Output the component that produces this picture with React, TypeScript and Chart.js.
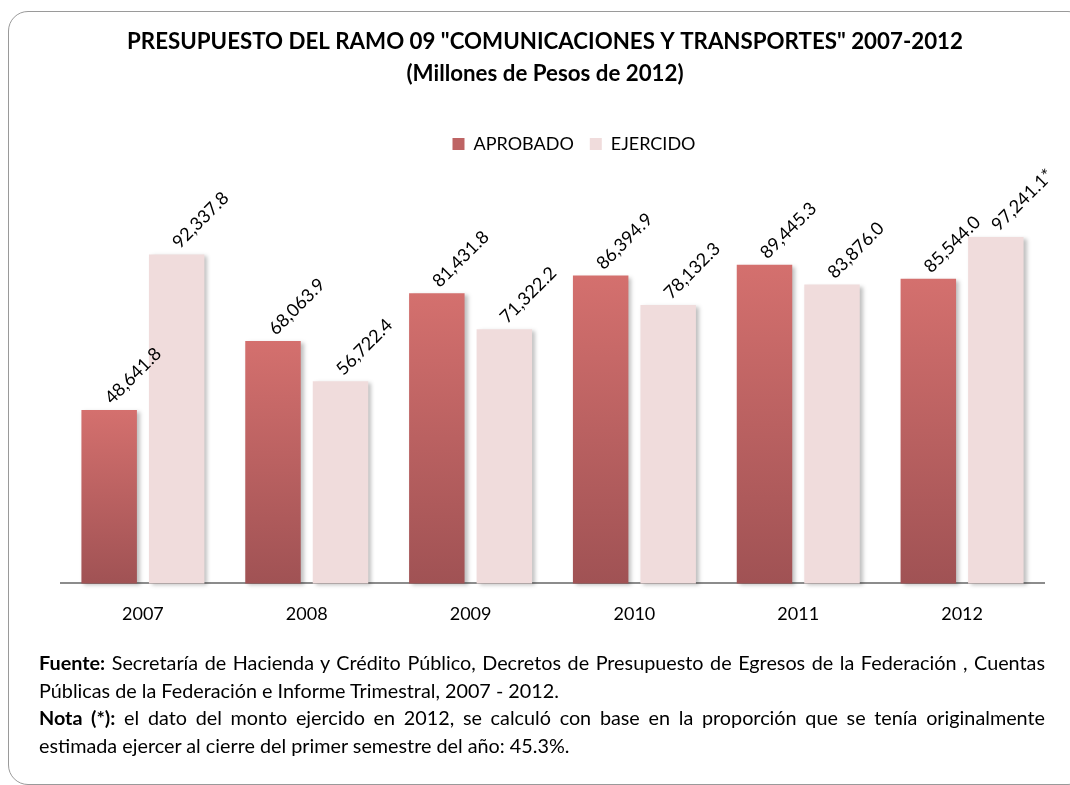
import React, { useEffect, useRef } from "react";
import { Chart, registerables } from "chart.js";

Chart.register(...registerables);

const years = ["2007", "2008", "2009", "2010", "2011", "2012"];
const aprobado = [48641.8, 68063.9, 81431.8, 86394.9, 89445.3, 85544.0];
const ejercido = [92337.8, 56722.4, 71322.2, 78132.3, 83876.0, 97241.1];
const ejercidoMarks = ["", "", "", "", "", "*"];
const aprobadoMarks = ["", "", "", "", "", ""];
const seriesNames = ["APROBADO", "EJERCIDO"];
const titleLines = [
  'PRESUPUESTO DEL RAMO 09 "COMUNICACIONES Y TRANSPORTES" 2007-2012',
  "(Millones de Pesos de 2012)",
];

const FONT = "Lato";
const fmt = (v: number) =>
  v.toLocaleString("en-US", { minimumFractionDigits: 1, maximumFractionDigits: 1 });

const labelPlugin = {
  id: "rotLabels",
  afterDatasetsDraw(chart: any) {
    const ctx = chart.ctx;
    const marks = [aprobadoMarks, ejercidoMarks];
    ctx.save();
    ctx.font = `18px ${FONT}`;
    ctx.fillStyle = "#000";
    ctx.textAlign = "left";
    ctx.textBaseline = "alphabetic";
    chart.data.datasets.forEach((ds: any, di: number) => {
      const meta = chart.getDatasetMeta(di);
      meta.data.forEach((bar: any, i: number) => {
        const text = fmt(ds.data[i]) + marks[di][i];
        ctx.save();
        ctx.translate(bar.x + 3, bar.y - 5);
        ctx.rotate(-Math.PI / 4);
        ctx.fillText(text, 0, 0);
        ctx.restore();
      });
    });
    ctx.restore();
  },
};

const shadowPlugin = {
  id: "barShadow",
  beforeDatasetDraw(chart: any) {
    const c = chart.ctx;
    c.save();
    c.shadowColor = "rgba(0,0,0,0.25)";
    c.shadowBlur = 4;
    c.shadowOffsetX = 3;
    c.shadowOffsetY = 2;
  },
  afterDatasetDraw(chart: any) {
    chart.ctx.restore();
  },
};

const legendShift = {
  id: "legendShift",
  afterLayout(chart: any) {
    const l = chart.legend;
    if (l) {
      l.left += 29;
      l.right += 29;
    }
  },
};

function BarChart() {
  const ref = useRef<HTMLCanvasElement | null>(null);
  useEffect(() => {
    if (!ref.current) return;
    const gradFill = (c: any) => {
      const chart = c.chart;
      const { chartArea, scales } = chart;
      if (!chartArea || c.type !== "data" || !scales.y) return "#BE6464";
      const top = scales.y.getPixelForValue(c.raw);
      const bottom = scales.y.getPixelForValue(0);
      const g = chart.ctx.createLinearGradient(0, top, 0, bottom);
      g.addColorStop(0, "#D4706E");
      g.addColorStop(1, "#A05254");
      return g;
    };
    const chart = new Chart(ref.current, {
      type: "bar",
      data: {
        labels: years,
        datasets: [
          {
            label: seriesNames[0],
            data: aprobado,
            backgroundColor: gradFill,
            categoryPercentage: 0.824,
            barPercentage: 0.822,
            clip: false as any,
          },
          {
            label: seriesNames[1],
            data: ejercido,
            backgroundColor: "#F0DCDC",
            categoryPercentage: 0.824,
            barPercentage: 0.822,
            clip: false as any,
          },
        ],
      },
      options: {
        responsive: false,
        animation: false,
        devicePixelRatio: 1,
        layout: { padding: { left: 46, right: 26, top: 0, bottom: 15 } },
        scales: {
          x: {
            grid: { display: false, drawTicks: false },
            border: { display: true, color: "#8c8c8c", width: 2 },
            ticks: { font: { family: FONT, size: 18 }, color: "#000", padding: 20 },
          },
          y: {
            display: true,
            min: 0,
            max: 118000,
            ticks: { display: false },
            grid: { display: false, drawTicks: false },
            border: { display: false },
            afterFit: (s: any) => {
              s.width = 15;
            },
          },
        },
        plugins: {
          title: {
            display: true,
            text: titleLines,
            color: "#000",
            font: { family: FONT, size: 22.3, weight: "bold", lineHeight: "32px" as any },
            padding: { top: 26, bottom: 29 },
          },
          legend: {
            display: true,
            position: "top",
            labels: {
              font: { family: FONT, size: 18 },
              color: "#000",
              boxWidth: 12,
              boxHeight: 12,
              padding: 16,
              generateLabels: () => [
                { text: seriesNames[0], fillStyle: "#BE6464", strokeStyle: "#BE6464", lineWidth: 0, datasetIndex: 0 },
                { text: seriesNames[1], fillStyle: "#F0DCDC", strokeStyle: "#F0DCDC", lineWidth: 0, datasetIndex: 1 },
              ],
            },
          },
          tooltip: { enabled: false },
        },
      },
      plugins: [shadowPlugin, labelPlugin, legendShift],
    });
    return () => chart.destroy();
  }, []);
  return (
    <canvas
      ref={ref}
      width={1070}
      height={660}
      style={{ position: "absolute", left: 0, top: 0, width: 1070, height: 660 }}
    />
  );
}

export default function App() {
  const lineStyle: React.CSSProperties = { height: 27.5, lineHeight: "27.5px", whiteSpace: "nowrap" };
  const justified: React.CSSProperties = {
    height: 27.5,
    lineHeight: "27.5px",
    textAlign: "justify",
    textAlignLast: "justify" as any,
  };
  return (
    <div
      style={{
        position: "absolute",
        left: 0,
        top: 0,
        width: 1070,
        height: 785,
        overflow: "hidden",
        background: "#fff",
        fontFamily: FONT,
      }}
    >
      <div
        style={{
          position: "absolute",
          left: 8,
          top: 11,
          width: 1080,
          height: 774,
          border: "1.5px solid #9a9a9a",
          borderRadius: 20,
          boxSizing: "border-box",
        }}
      />
      <BarChart />
      <div
        style={{
          position: "absolute",
          left: 39,
          top: 649,
          width: 1006,
          fontSize: 19.8,
          color: "#000",
        }}
      >
        <div style={justified}>
          <b>Fuente:</b> Secretaría de Hacienda y Crédito Público, Decretos de Presupuesto de Egresos de la
          Federación , Cuentas
        </div>
        <div style={lineStyle}>Públicas de la Federación e Informe Trimestral, 2007 - 2012.</div>
        <div style={justified}>
          <b>Nota (*):</b> el dato del monto ejercido en 2012, se calculó con base en la proporción que se tenía
          originalmente
        </div>
        <div style={lineStyle}>estimada ejercer al cierre del primer semestre del año: 45.3%.</div>
      </div>
    </div>
  );
}
